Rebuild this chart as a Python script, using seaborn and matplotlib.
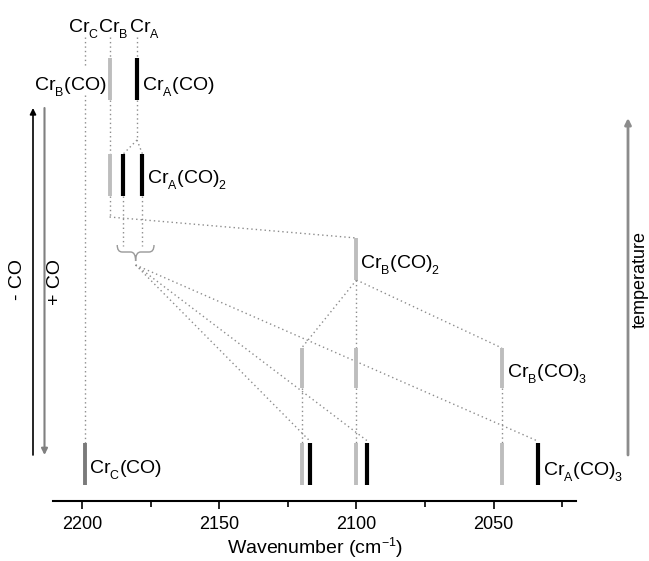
import matplotlib
matplotlib.use("Agg")
import matplotlib.pyplot as plt
from matplotlib.path import Path
from matplotlib.patches import PathPatch
import seaborn as sns

# smaller, lower subscripts (as in the reference figure)
try:
    import matplotlib._mathtext as _mt
    _mt.SHRINK_FACTOR = 0.64
    _mt.FontConstantsBase.sub1 = 0.6
    _mt.FontConstantsBase.subdrop = 0.6
except Exception:
    pass

# ---- data: band positions (wavenumber, cm^-1) ----
cr_c_co = [2199]                 # Cr_C(CO)
cr_b_co = [2190]                 # Cr_B(CO)
cr_a_co = [2180]                 # Cr_A(CO)
cr_a_co2 = [2185, 2178]          # Cr_A(CO)2
cr_b_co2 = [2100]                # Cr_B(CO)2
cr_b_co3 = [2120, 2100, 2047]    # Cr_B(CO)3
cr_a_co3 = [2117, 2096, 2034]    # Cr_A(CO)3
major_ticks = [2200, 2150, 2100, 2050]
minor_ticks = [2175, 2125, 2075, 2025]
x_range = (2210.5, 2020)

sns.set_theme(style="white", rc={"axes.edgecolor": "black", "text.color": "black",
                                 "xtick.color": "black", "axes.labelcolor": "black"})
plt.rcParams["font.family"] = ["Liberation Sans", "DejaVu Sans"]
plt.rcParams["mathtext.fontset"] = "custom"
plt.rcParams["mathtext.rm"] = "Liberation Sans"
plt.rcParams["mathtext.it"] = "Liberation Sans:italic"
plt.rcParams["mathtext.bf"] = "Liberation Sans:bold"

W, H = 649, 561
fig = plt.figure(figsize=(W / 100, H / 100), dpi=100)
ax_l, ax_r, ax_b = 53.3, 576, 501
ax = fig.add_axes([ax_l / W, (H - ax_b) / H, (ax_r - ax_l) / W, ax_b / H])
ax.set_xlim(*x_range)
ax.set_ylim(ax_b, 0)

# vertical levels (layout, top/bottom of each row)
R1 = (58, 100)
R2 = (154, 196)
R3 = (238, 280)
R4 = (348, 388)
R5 = (443, 485)
LABEL_Y = 37

LIGHT = "#bdbdbd"
DARK = "#7a7a7a"
BLACK = "#000000"
DOT = "#8c8c8c"
DOTSTYLE = (0, (1, 2.2))


def bars(xs, row, color, lw=2.8):
    ax.vlines(xs, row[0], row[1], colors=color, lw=lw, zorder=3)


def dline(x0, y0, x1, y1):
    ax.plot([x0, x1], [y0, y1], color=DOT, lw=1.0, ls=DOTSTYLE, zorder=2)


# bars
bars(cr_b_co, R1, LIGHT)
bars(cr_a_co, R1, BLACK, 3.0)
bars(cr_b_co, R2, LIGHT)
bars(cr_a_co2, R2, BLACK, 3.0)
bars(cr_b_co2, R3, LIGHT)
bars(cr_b_co3, R4, LIGHT)
bars(cr_c_co, R5, DARK)
bars(cr_b_co3, R5, LIGHT)
bars(cr_a_co3, R5, BLACK, 3.0)

# dotted connections
xc, xb, xa = cr_c_co[0], cr_b_co[0], cr_a_co[0]
dline(xc, LABEL_Y, xc, 66)
dline(xc, 95, xc, R5[0])
dline(xb, LABEL_Y, xb, R1[0])
dline(xb, R1[1], xb, R2[0])
dline(xb, R2[1], xb, 217)
dline(xb, 217, cr_b_co2[0], R3[0])
dline(xa, LABEL_Y, xa, R1[0])
dline(xa, R1[1], xa, 140)
for x in cr_a_co2:
    dline(xa, 140, x, R2[0])
    dline(x, R2[1], x, 246)
for x in cr_b_co3:
    dline(cr_b_co2[0], R3[1], x, R4[0])
    dline(x, R4[1], x, R5[0])

# brace under Cr_A(CO)2
bl, br = max(cr_a_co2) + 2.2, min(cr_a_co2) - 4.2
bc = (bl + br) / 2
by0, by1, tip = 245, 252, 261
verts = [(bl, by0), (bl, by1), (bl - 1.8, by1), (bc + 1.8, by1), (bc, by1), (bc, tip),
         (bc, by1), (bc - 1.8, by1), (br + 1.8, by1), (br, by1), (br, by0)]
codes = [Path.MOVETO, Path.CURVE3, Path.CURVE3, Path.LINETO, Path.CURVE3, Path.CURVE3,
         Path.CURVE3, Path.CURVE3, Path.LINETO, Path.CURVE3, Path.CURVE3]
ax.add_patch(PathPatch(Path(verts, codes), fill=False, ec="#999999", lw=1.0, zorder=2))
for x in cr_a_co3:
    dline(bc, tip + 4, x, R5[0] - 2)

# labels
FS = 14


def lab(x, y, s, dx=4, ha="left"):
    ax.annotate(s, (x, y), xytext=(dx, 0), textcoords="offset pixels",
                ha=ha, va="baseline", fontsize=FS, annotation_clip=False, zorder=4)


lab(xc, 32, r"Cr$_\mathrm{C}$", dx=-17)
lab(xb, 32, r"Cr$_\mathrm{B}$", dx=-12)
lab(xa, 32, r"Cr$_\mathrm{A}$", dx=-8)
lab(xb, 90, r"Cr$_\mathrm{B}$(CO)", dx=-3, ha="right")
lab(xa, 90, r"Cr$_\mathrm{A}$(CO)", dx=5)
lab(min(cr_a_co2), 183, r"Cr$_\mathrm{A}$(CO)$_\mathrm{2}$", dx=5)
lab(cr_b_co2[0], 268, r"Cr$_\mathrm{B}$(CO)$_\mathrm{2}$", dx=4)
lab(min(cr_b_co3), 377, r"Cr$_\mathrm{B}$(CO)$_\mathrm{3}$", dx=5)
lab(cr_c_co[0], 473, r"Cr$_\mathrm{C}$(CO)", dx=4)
lab(min(cr_a_co3), 475, r"Cr$_\mathrm{A}$(CO)$_\mathrm{3}$", dx=5)


# side arrows (figure pixel coordinates, y measured from top)
def arrow(x, y_from, y_to, color, lw):
    fig.add_artist(matplotlib.patches.FancyArrowPatch(
        (x, H - y_from), (x, H - y_to), transform=None,
        arrowstyle="-|>", mutation_scale=9, lw=lw, color=color,
        shrinkA=0, shrinkB=0))


arrow(33, 455, 108, BLACK, 1.2)
arrow(44.5, 108, 455, "#808080", 1.5)
arrow(628, 455, 118, "#8c8c8c", 2.0)
fig.text(18 / W, 1 - 280 / H, "- CO", rotation=90, ha="center", va="center", fontsize=FS)
fig.text(55 / W, 1 - 282 / H, "+ CO", rotation=90, ha="center", va="center", fontsize=FS)
fig.text(640 / W, 1 - 280 / H, "temperature", rotation=90, ha="center", va="center",
         fontsize=13)

# axis
ax.set_xticks(major_ticks)
ax.set_xticks(minor_ticks, minor=True)
ax.set_yticks([])
ax.tick_params(axis="x", which="major", direction="out", length=6, width=1.2,
               labelsize=13, pad=5, bottom=True)
ax.tick_params(axis="x", which="minor", direction="out", length=4.5, width=1.2,
               bottom=True)
sns.despine(ax=ax, left=True, top=True, right=True)
ax.spines["bottom"].set_linewidth(1.5)
ax.set_xlabel(r"Wavenumber (cm$^{-1}$)", fontsize=14)
ax.xaxis.set_label_coords(0.5, (ax_b - 548) / ax_b)
ax.xaxis.label.set_va("center")

fig.savefig("out.png", dpi=100)
